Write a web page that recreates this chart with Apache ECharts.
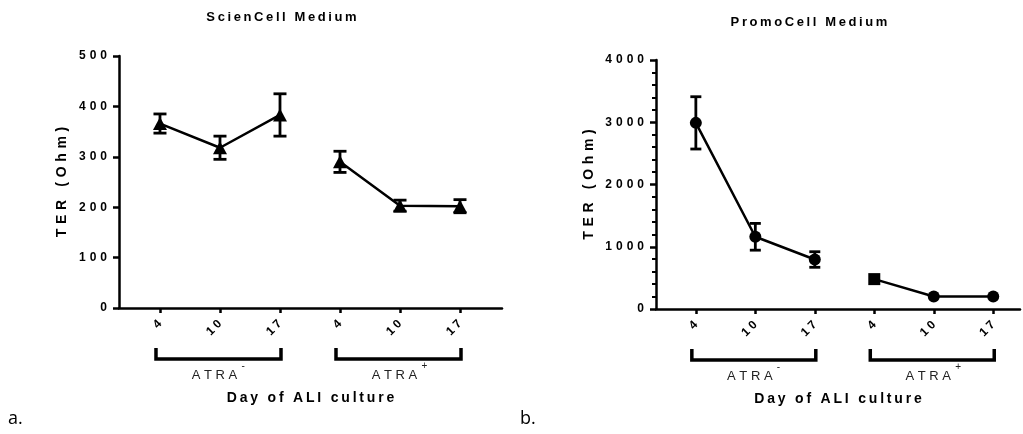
<!DOCTYPE html>
<html>
<head>
<meta charset="utf-8">
<script src="https://cdn.jsdelivr.net/npm/echarts@6/dist/echarts.min.js"></script>
<style>
  html, body { margin: 0; padding: 0; background: #fff; }
  #chart { width: 1023px; height: 434px; }
</style>
</head>
<body>
<div id="chart"></div>
<script>
// day labels under each tick, two ATRA groups of three days
const dayLabels = ['4', '10', '17', '4', '10', '17'];
const groupSigns = ['-', '+'];
const titles = ['ScienCell Medium', 'PromoCell Medium'];
const panelTags = ['a.', 'b.'];

// ScienCell (triangles), mean and error
const scienMean = [366, 318, 383, 290, 203, 202];
const scienErr = [19, 23, 42, 21, 11, 13];

// PromoCell (circles, day 4 ATRA+ is a square)
const promoMean = [2990, 1160, 795, 480, 200, 200];
const promoErr = [420, 215, 125, 0, 0, 0];
const promoSymbols = ['circle', 'circle', 'circle', 'rect', 'circle', 'circle'];

const yMax = [500, 4000];
const yStep = [100, 1000];

const FONT = '"Liberation Sans", Arial, sans-serif';
const positions = dayLabels.map((_, i) => i + 1);

// fake letter spacing
function spaced(s, sep) {
  return s.split('').join(sep);
}

function errorBarItem(capW, lw) {
  return function (params, api) {
    const x = api.value(0);
    const top = api.coord([x, api.value(2)]);
    const bot = api.coord([x, api.value(1)]);
    const h = capW / 2;
    const style = { stroke: '#000', lineWidth: lw };
    return {
      type: 'group',
      children: [
        { type: 'line', shape: { x1: top[0], y1: top[1], x2: bot[0], y2: bot[1] }, style },
        { type: 'line', shape: { x1: top[0] - h, y1: top[1], x2: top[0] + h, y2: top[1] }, style },
        { type: 'line', shape: { x1: bot[0] - h, y1: bot[1], x2: bot[0] + h, y2: bot[1] }, style }
      ]
    };
  };
}

function errData(mean, err) {
  const out = [];
  mean.forEach((m, i) => {
    if (err[i] > 0) out.push([positions[i], m - err[i], m + err[i]]);
  });
  return out;
}

function lineData(mean, from, to, symbols) {
  const out = [];
  for (let i = from; i < to; i++) {
    const item = { value: [positions[i], mean[i]] };
    if (symbols) item.symbol = symbols[i];
    out.push(item);
  }
  return out;
}

const grids = [
  { left: 119, top: 56, width: 383, height: 252 },
  { left: 656, top: 60, width: 364, height: 249 }
];

function xAxisFor(idx, min, max) {
  return {
    type: 'value',
    gridIndex: idx,
    min: min,
    max: max,
    splitLine: { show: false },
    axisLine: { onZero: false, lineStyle: { color: '#000', width: 2.5 } },
    axisTick: { customValues: positions, length: 5, lineStyle: { color: '#000', width: 2.5 } },
    axisLabel: {
      customValues: positions,
      rotate: 45,
      margin: 14,
      color: '#000',
      fontFamily: FONT,
      fontWeight: 'bold',
      fontSize: 12,
      formatter: v => spaced(dayLabels[Math.round(v) - 1], '\u2005')
    }
  };
}

function yAxisFor(idx, nameGap, minor) {
  return {
    type: 'value',
    gridIndex: idx,
    min: 0,
    max: yMax[idx],
    interval: yStep[idx],
    name: spaced('TER (Ohm)', '\u2004'),
    nameLocation: 'middle',
    nameGap: nameGap,
    nameTextStyle: { color: '#000', fontFamily: FONT, fontWeight: 'bold', fontSize: 14 },
    splitLine: { show: false },
    axisLine: { show: true, onZero: false, lineStyle: { color: '#000', width: 2.5 } },
    axisTick: { show: true, length: 6, lineStyle: { color: '#000', width: 2.5 } },
    minorTick: { show: minor, splitNumber: 5, length: 4, lineStyle: { color: '#000', width: 2 } },
    axisLabel: {
      margin: 12,
      color: '#000',
      fontFamily: FONT,
      fontWeight: 'bold',
      fontSize: 12,
      formatter: v => spaced(String(v), '\u2004')
    }
  };
}

const lineStyle = { color: '#000', width: 2.5 };

const chart = echarts.init(document.getElementById('chart'), null, { renderer: 'canvas' });

chart.setOption({
  animation: false,
  backgroundColor: '#fff',
  grid: grids,
  xAxis: [xAxisFor(0, 0.317, 6.7), xAxisFor(1, 0.33, 6.45)],
  yAxis: [yAxisFor(0, 50, false), yAxisFor(1, 60, true)],
  series: [
    // ScienCell
    {
      type: 'custom', xAxisIndex: 0, yAxisIndex: 0, z: 1,
      renderItem: errorBarItem(13, 2.8),
      data: errData(scienMean, scienErr)
    },
    {
      type: 'line', xAxisIndex: 0, yAxisIndex: 0, z: 3,
      symbol: 'triangle', symbolSize: [14, 13],
      itemStyle: { color: '#000' }, lineStyle: lineStyle,
      data: lineData(scienMean, 0, 3)
    },
    {
      type: 'line', xAxisIndex: 0, yAxisIndex: 0, z: 3,
      symbol: 'triangle', symbolSize: [14, 13],
      itemStyle: { color: '#000' }, lineStyle: lineStyle,
      data: lineData(scienMean, 3, 6)
    },
    // PromoCell
    {
      type: 'custom', xAxisIndex: 1, yAxisIndex: 1, z: 1,
      renderItem: errorBarItem(11, 2.8),
      data: errData(promoMean, promoErr)
    },
    {
      type: 'line', xAxisIndex: 1, yAxisIndex: 1, z: 3,
      symbolSize: 12,
      itemStyle: { color: '#000' }, lineStyle: lineStyle,
      data: lineData(promoMean, 0, 3, promoSymbols)
    },
    {
      type: 'line', xAxisIndex: 1, yAxisIndex: 1, z: 3,
      symbolSize: 12,
      itemStyle: { color: '#000' }, lineStyle: lineStyle,
      data: lineData(promoMean, 3, 6, promoSymbols)
    }
  ]
});

// brackets, group names, titles, axis titles placed from the axes themselves
const graphic = [];
grids.forEach((g, gi) => {
  const finder = { gridIndex: gi };
  const y0 = chart.convertToPixel(finder, [1, 0])[1];
  const cx = g.left + g.width / 2;

  graphic.push({
    type: 'text',
    style: {
      text: spaced(titles[gi], '\u2009'), x: cx - 29, y: gi === 0 ? 17 : 22,
      align: 'center', verticalAlign: 'middle',
      font: 'bold 13px ' + FONT, fill: '#000'
    }
  });
  graphic.push({
    type: 'text',
    style: {
      text: spaced('Day of ALI culture', '\u2009'), x: cx, y: y0 + 90,
      align: 'center', verticalAlign: 'middle',
      font: 'bold 14px ' + FONT, fill: '#000'
    }
  });
  graphic.push({
    type: 'text',
    style: {
      text: panelTags[gi], x: gi === 0 ? 8 : 520, y: 419,
      align: 'left', verticalAlign: 'middle',
      font: '18px "Open Sans", sans-serif', fill: '#000'
    }
  });

  groupSigns.forEach((sign, k) => {
    const xa = chart.convertToPixel(finder, [positions[k * 3], 0])[0] - 4;
    const xb = chart.convertToPixel(finder, [positions[k * 3 + 2], 0])[0] + 1;
    graphic.push({
      type: 'polyline',
      shape: { points: [[xa, y0 + 40], [xa, y0 + 51], [xb, y0 + 51], [xb, y0 + 40]] },
      style: { stroke: '#000', lineWidth: 3.5, fill: null, lineJoin: 'miter' }
    });
    const bc = (xa + xb) / 2 - 4;
    graphic.push({
      type: 'text',
      style: {
        text: spaced('ATRA', ' '), x: bc, y: y0 + 67,
        align: 'center', verticalAlign: 'middle',
        font: '13px ' + FONT, fill: '#222'
      }
    });
    graphic.push({
      type: 'text',
      style: {
        text: sign, x: bc + 27, y: y0 + 58,
        align: 'left', verticalAlign: 'middle',
        font: '10px ' + FONT, fill: '#222'
      }
    });
  });
});

chart.setOption({ graphic: graphic });
</script>
</body>
</html>
